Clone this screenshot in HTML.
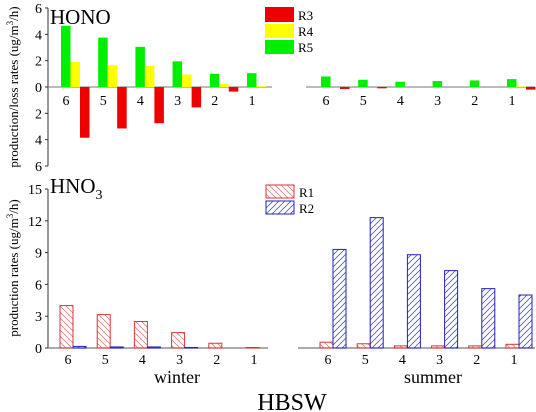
<!DOCTYPE html>
<html><head><meta charset="utf-8"><style>
body{margin:0;background:#fff}
svg{display:block;font-family:"Liberation Serif",serif}
</style></head><body>
<svg id="c" width="536" height="412" viewBox="0 0 536 412">
<defs>
<pattern id="hR1" width="6" height="6" patternUnits="userSpaceOnUse"><path d="M0,0 L6,6 M-3,3 L3,9 M3,-3 L9,3" stroke="#e08080" stroke-width="0.8"/></pattern>
<pattern id="hR2" width="6" height="6" patternUnits="userSpaceOnUse"><path d="M0,6 L6,0 M-3,3 L3,-3 M3,9 L9,3" stroke="#5555cc" stroke-width="0.8"/></pattern>
</defs>
<g id="g"></g>
</svg>
<script>
const cats=["6","5","4","3","2","1"];
const honoWinterR5=[4.65,3.75,3.05,1.95,1.0,1.05];
const honoWinterR4=[1.9,1.65,1.6,0.95,0.25,0.05];
const honoWinterR3=[-3.85,-3.15,-2.75,-1.55,-0.35,0];
const honoSummerR5=[0.8,0.55,0.4,0.45,0.5,0.6];
const honoSummerR4=[0,0,0,0,0,0.05];
const honoSummerR3=[-0.15,-0.1,0,0,0,-0.2];
const hno3WinterR1=[4.0,3.15,2.5,1.45,0.45,0.05];
const hno3WinterR2=[0.15,0.1,0.1,0.05,0,0];
const hno3SummerR1=[0.55,0.4,0.2,0.2,0.2,0.35];
const hno3SummerR2=[9.3,12.3,8.8,7.3,5.6,5.0];
const honoTicks=[6,4,2,0,-2,-4,-6];
const hno3Ticks=[0,3,6,9,12,15];

const NS="http://www.w3.org/2000/svg";
const g=document.getElementById('g');
function mk(t,a,txt){const e=document.createElementNS(NS,t);for(const k in a)e.setAttribute(k,a[k]);if(txt!==undefined)e.textContent=txt;g.appendChild(e);return e;}
const yTop=v=>87-v*13.17;
const yBot=v=>348-v*10.6;
const step=37.2;
// top axes
mk('line',{x1:48,y1:8,x2:48,y2:166,stroke:'#333','stroke-width':1});
honoTicks.forEach(t=>{const l=mk('line',{x1:45,y1:yTop(t),x2:48,y2:yTop(t),stroke:'#333'});
const e=mk('text',{x:42,y:yTop(t)+5,'text-anchor':'end','font-size':14},Math.abs(t));});
mk('line',{x1:48,y1:87,x2:272,y2:87,stroke:'#777'});
mk('line',{x1:306,y1:87,x2:535,y2:87,stroke:'#777'});
function hono(x0,r5,r4,r3){cats.forEach((c,i)=>{const x=x0+i*step;
[[r5,'#00ee00',0],[r4,'#ffff00',9.5],[r3,'#ee0000',19]].forEach(([arr,col,off])=>{const v=arr[i];const y1=yTop(Math.max(v,0)),y2=yTop(Math.min(v,0));
const r=mk('rect',{x:x+off,y:y1,width:9.5,height:Math.max(y2-y1,0),fill:col});});
const t=mk('text',{x:x+5,y:105,'text-anchor':'middle','font-size':14},c);});}
hono(61,honoWinterR5,honoWinterR4,honoWinterR3);
hono(321,honoSummerR5,honoSummerR4,honoSummerR3);
// bottom axes
mk('line',{x1:48,y1:189,x2:48,y2:348,stroke:'#333'});
hno3Ticks.forEach(t=>{const l=mk('line',{x1:45,y1:yBot(t),x2:48,y2:yBot(t),stroke:'#333'});
const e=mk('text',{x:42,y:yBot(t)+5,'text-anchor':'end','font-size':14},t);});
mk('line',{x1:48,y1:348,x2:268,y2:348,stroke:'#777','stroke-width':1.2});
mk('line',{x1:298,y1:348,x2:535,y2:348,stroke:'#777','stroke-width':1.2});
function hno3(x0,r1,r2){cats.forEach((c,i)=>{const x=x0+i*step;
[[r1,'#dd3333','url(#hR1)',0],[r2,'#2222bb','url(#hR2)',13]].forEach(([arr,col,pat,off])=>{const v=arr[i];
const r=mk('rect',{x:x+off,y:yBot(v),width:13,height:Math.max(v*10.6,0),fill:pat,stroke:col,'stroke-width':1});});
const t=mk('text',{x:x+8,y:364,'text-anchor':'middle','font-size':14},c);});}
hno3(60,hno3WinterR1,hno3WinterR2);
hno3(320,hno3SummerR1,hno3SummerR2);
</script>
<svg width="536" height="412" style="position:absolute;left:0;top:0" font-family="Liberation Serif, serif">
<text x="50" y="24" font-size="21">HONO</text>
<text x="50" y="193" font-size="21">HNO<tspan font-size="14" dy="6">3</tspan></text>
<g>
<rect x="265" y="7" width="29" height="15" fill="#ee0000"/><text x="298" y="20" font-size="13">R3</text>
<rect x="265" y="24" width="29" height="14" fill="#ffff00"/><text x="298" y="36" font-size="13">R4</text>
<rect x="265" y="40" width="29" height="14" fill="#00ee00"/><text x="298" y="52" font-size="13">R5</text>
</g>
<g>
<rect x="266" y="185" width="28" height="13" fill="url(#hR1)" stroke="#dd3333"/><text x="299" y="197" font-size="13">R1</text>
<rect x="266" y="201" width="28" height="13" fill="url(#hR2)" stroke="#2222bb"/><text x="299" y="213" font-size="13">R2</text>
</g>
<text x="177" y="383" font-size="18" text-anchor="middle">winter</text>
<text x="433" y="383" font-size="18" text-anchor="middle">summer</text>
<text x="292" y="410" font-size="24" text-anchor="middle">HBSW</text>
<text transform="translate(18,87) rotate(-90)" font-size="13" text-anchor="middle">production/loss rates (ug/m<tspan font-size="9" dy="-5">3</tspan><tspan dy="5">/h)</tspan></text>
<text transform="translate(18,268) rotate(-90)" font-size="13" text-anchor="middle">production rates (ug/m<tspan font-size="9" dy="-5">3</tspan><tspan dy="5">/h)</tspan></text>
</svg>
</body></html>
